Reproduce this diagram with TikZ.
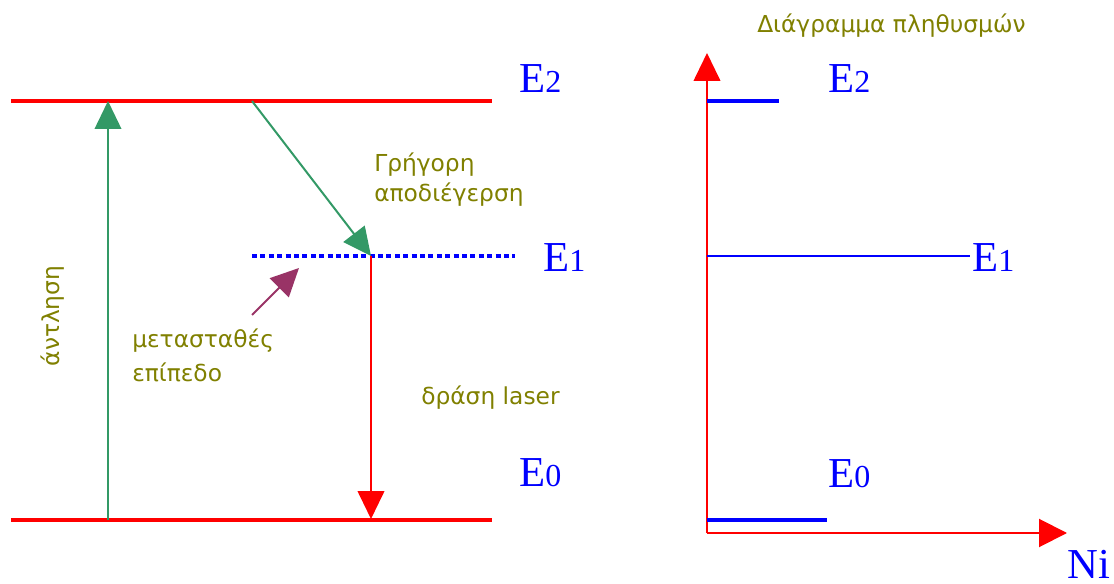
\documentclass[tikz,border=0pt]{standalone}
\usepackage{fontspec}
\setmainfont{Liberation Serif}
\newfontfamily\grfont{DejaVu Sans}
\usetikzlibrary{arrows.meta}
\definecolor{olivetxt}{RGB}{128,128,0}
\definecolor{pumpgreen}{RGB}{51,153,102}
\definecolor{metapurple}{RGB}{153,51,102}
\newcommand{\elev}[1]{\fontsize{32}{34}\selectfont E{\fontsize{24}{26}\selectfont #1}}
\begin{document}
\begin{tikzpicture}[x=0.75pt,y=-0.75pt,
  level/.style={red, line width=3pt},
  elabel/.style={blue, inner sep=0pt, anchor=base west},
  grtext/.style={olivetxt, inner sep=0pt, anchor=base west, align=left, font=\grfont\fontsize{17.5}{22.5}\selectfont},
  bigtip/.style={-{Triangle[length=21pt,width=20pt]}}]
\useasboundingbox (0,0) rectangle (1114,584);
% energy levels
\coordinate (e2a) at (11,101);
\coordinate (e2b) at (492,101);
\coordinate (e0a) at (11,520);
\coordinate (e0b) at (492,520);
\coordinate (e1a) at (252,256);
\coordinate (e1b) at (515,256);
\draw[level] (e2a) -- (e2b);
\draw[level] (e0a) -- (e0b);
\draw[blue, line width=2.6pt, dash pattern=on 3.8pt off 2.5pt] (e1a) -- (e1b);
\node[elabel] (E2) at (519,93) {\elev{2}};
\node[elabel] (E1) at (543,272) {\elev{1}};
\node[elabel] (E0) at (519,487) {\elev{0}};
% transitions
\coordinate (pump0) at (108,520);
\coordinate (pump2) at (108,101);
\coordinate (fast2) at (252,101);
\coordinate (fast1) at (371,256);
\coordinate (las0) at (371,519);
\coordinate (meta0) at (252,315);
\coordinate (meta1) at (299,268);
\draw[bigtip, pumpgreen, line width=1.3pt] (pump0) -- (pump2);
\draw[bigtip, pumpgreen, line width=1.5pt] (fast2) -- (fast1);
\draw[bigtip, red, line width=1.5pt] (fast1) -- (las0);
\draw[bigtip, metapurple, line width=1.5pt] (meta0) -- (meta1);
\node[grtext] (fast) at (374,202) {Γρήγορη\\αποδιέγερση};
\node[grtext, font=\grfont\fontsize{17.5}{26.2}\selectfont] (meta) at (132,382) {μετασταθές\\επίπεδο};
\node[grtext] (laser) at (421,405) {δράση laser};
\node[grtext, anchor=center, rotate=90] (pump) at (53,316) {άντληση};
% population diagram
\node[grtext] (title) at (757,33) {Διάγραμμα πληθυσμών};
\coordinate (orig) at (707,533);
\coordinate (ytop) at (707,53);
\coordinate (xend) at (1067,533);
\draw[bigtip, red, line width=1.5pt] (orig) -- (ytop);
\draw[-{Triangle[length=21pt,width=21pt]}, red, line width=1.5pt] (orig) -- (xend);
\coordinate (n2a) at (707,101);
\coordinate (n2b) at (779,101);
\coordinate (n1a) at (707,256);
\coordinate (n1b) at (970,256);
\coordinate (n0a) at (707,520);
\coordinate (n0b) at (827,520);
\draw[blue, line width=3pt] (n2a) -- (n2b);
\draw[blue, line width=1.5pt] (n1a) -- (n1b);
\draw[blue, line width=3pt] (n0a) -- (n0b);
\node[elabel] (N2) at (828,93) {\elev{2}};
\node[elabel] (N1) at (972,272) {\elev{1}};
\node[elabel] (N0) at (828,488) {\elev{0}};
\node[elabel, font=\fontsize{32}{34}\selectfont] (Ni) at (1067,578) {Ni};
\end{tikzpicture}
\end{document}
